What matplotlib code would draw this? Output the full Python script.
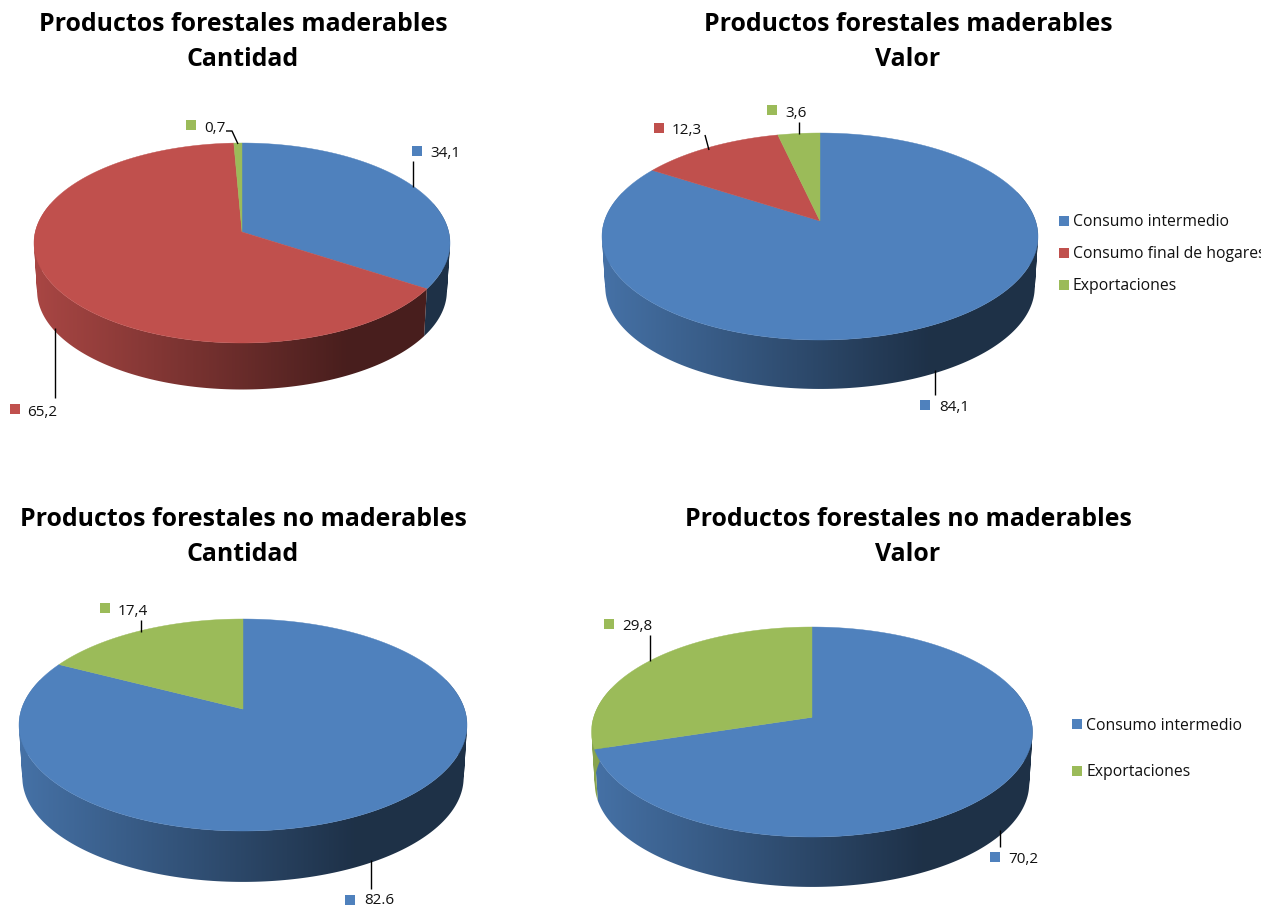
import numpy as np
import matplotlib
matplotlib.use("Agg")
import matplotlib.pyplot as plt
from matplotlib.colors import to_rgb
from matplotlib.patches import PathPatch, Rectangle
from matplotlib.path import Path

plt.rcParams['font.family'] = ['Open Sans', 'DejaVu Sans']

BLUE = '#4F81BD'
RED = '#C0504D'
GREEN = '#9BBB59'

# values
maderables_cantidad = [34.1, 65.2, 0.7]
maderables_valor = [84.1, 12.3, 3.6]
no_maderables_cantidad = [82.6, 17.4]
no_maderables_valor = [70.2, 29.8]

maderables_labels = ['34,1', '65,2', '0,7']
valor_labels = ['84,1', '12,3', '3,6']
no_mad_cant_labels = ['82.6', '17,4']
no_mad_valor_labels = ['70,2', '29,8']

legend_three = ['Consumo intermedio', 'Consumo final de hogares', 'Exportaciones']
legend_two = ['Consumo intermedio', 'Exportaciones']

W, H = 1275, 907
fig = plt.figure(figsize=(W / 100, H / 100), dpi=100)
ax = fig.add_axes([0, 0, 1, 1])
ax.axis('off')


def project(t, cx, cy, rx, ry, a):
    # circle seen in perspective, the pie centre sits above the ellipse centre
    u, v = np.sin(t), np.cos(t)
    d = 1 + a * v
    x = u * np.sqrt(1 - a * a) / d
    y = (v + a) / d
    return cx + rx * x, cy - ry * y


def wall_path(x1, y1, x2, y2):
    # one quad per step, all turned the same way so the fold at the sides stays filled
    quads = []
    for k in range(len(x1) - 1):
        q = np.array([(x1[k], y1[k]), (x1[k + 1], y1[k + 1]), (x2[k + 1], y2[k + 1]), (x2[k], y2[k])])
        area = np.sum(q[:, 0] * np.roll(q[:, 1], -1) - np.roll(q[:, 0], -1) * q[:, 1])
        if area < 0:
            q = q[::-1]
        quads.append(Path(np.vstack([q, q[0]]), closed=True))
    return Path.make_compound_path(*quads)


def draw_pie(values, colors, cx, cy, rx, ry, a, depth, shrink):
    edges = np.cumsum([0] + list(values)) / sum(values) * 2 * np.pi
    # wall first, only the front part shows
    for i, col in enumerate(colors):
        lo, hi = max(edges[i], 1.27), min(edges[i + 1], 5.01)
        if hi <= lo:
            continue
        ts = np.linspace(lo, hi, 200)
        x1, y1 = project(ts, cx, cy, rx, ry, a)
        x2, y2 = project(ts, cx, cy + depth, rx * shrink, ry * shrink, a)
        clip = PathPatch(wall_path(x1, y1, x2, y2), transform=ax.transData)
        f = np.clip(np.linspace(0, 2 * rx, 400) / (1.5 * rx), 0, 1)
        grad = np.array(to_rgb(col))[None, :] * (0.88 - 0.50 * f)[:, None]
        im = ax.imshow(grad[None, :, :], extent=(cx - rx, cx + rx, cy + depth + ry, cy - ry),
                       aspect='auto', zorder=2, interpolation='bilinear')
        im.set_clip_path(clip)
    # top face
    for i, col in enumerate(colors):
        ts = np.linspace(edges[i], edges[i + 1], 300)
        x, y = project(ts, cx, cy, rx, ry, a)
        x = np.r_[cx, x]
        y = np.r_[cy - ry * a, y]
        ax.fill(x, y, facecolor=col, edgecolor=col, linewidth=0.3, zorder=3)


def square(x, y, col):
    ax.add_patch(Rectangle((x, y - 5), 10, 10, facecolor=col, edgecolor='none', zorder=5))


def label(sq_x, sq_y, txt_x, txt_y, txt, col):
    square(sq_x, sq_y, col)
    ax.text(txt_x, txt_y + 1.5, txt, fontsize=11, color='#111111', va='center', ha='left', zorder=5)


def leader(xs, ys):
    ax.plot(xs, ys, color='black', linewidth=1, zorder=4, solid_capstyle='butt')


def title(x, y, line1, line2):
    ax.text(x, y + 1.5, line1, fontsize=17.9, fontweight='bold', ha='center', va='center', color='black')
    ax.text(x, y + 36.5, line2, fontsize=17.9, fontweight='bold', ha='center', va='center', color='black')


def legend(x, ys, names, colors):
    for name, col, y in zip(names, colors, ys):
        square(x, y, col)
        ax.text(x + 14, y + 1.5, name, fontsize=11.3, color='#111111', va='center', ha='left')


# top left
title(243, 23, 'Productos forestales maderables', 'Cantidad')
draw_pie(maderables_cantidad, [BLUE, RED, GREEN], 242, 243, 208, 100, 0.11, 48, 0.985)
label(412, 151, 430, 152, maderables_labels[0], BLUE)
label(10, 409, 27, 411, maderables_labels[1], RED)
label(186, 125, 204, 127, maderables_labels[2], GREEN)
leader([413, 413], [161, 187])
leader([55, 55], [328, 398])
leader([226, 232, 238], [131, 131, 144])

# top right
title(908, 23, 'Productos forestales maderables', 'Valor')
draw_pie(maderables_valor, [BLUE, RED, GREEN], 820, 236.5, 218, 103.5, 0.15, 50.5, 0.985)
label(920, 405, 939, 406, valor_labels[0], BLUE)
label(654, 128, 672, 129, valor_labels[1], RED)
label(767, 110, 785, 112, valor_labels[2], GREEN)
leader([935, 935], [370, 395])
leader([705, 709], [135, 150])
leader([799, 799], [122, 134])
legend(1059, [221, 253, 285], legend_three, [BLUE, RED, GREEN])

# bottom left
title(243, 518, 'Productos forestales no maderables', 'Cantidad')
draw_pie(no_maderables_cantidad, [BLUE, GREEN], 243, 725, 224, 106, 0.15, 52.5, 0.985)
label(345, 900, 364, 899.5, no_mad_cant_labels[0], BLUE)
label(100, 608, 118, 610, no_mad_cant_labels[1], GREEN)
leader([371, 371], [860, 889])
leader([141, 141], [620, 632])

# bottom right
title(908, 518, 'Productos forestales no maderables', 'Valor')
draw_pie(no_maderables_valor, [BLUE, GREEN], 812, 732, 220.5, 105, 0.14, 51.5, 0.985)
label(990, 857, 1008, 858, no_mad_valor_labels[0], BLUE)
label(604, 624, 622, 625, no_mad_valor_labels[1], GREEN)
leader([1000, 1000], [830, 847])
leader([650, 650], [635, 661])
legend(1072, [724, 771], legend_two, [BLUE, GREEN])

# the original is cut off on the right
ax.add_patch(Rectangle((1261, 0), W - 1261, H, facecolor='white', edgecolor='none', zorder=10))

# imshow moves the limits, set them last
ax.set_xlim(0, W)
ax.set_ylim(H, 0)

fig.savefig('out.png', dpi=100)
